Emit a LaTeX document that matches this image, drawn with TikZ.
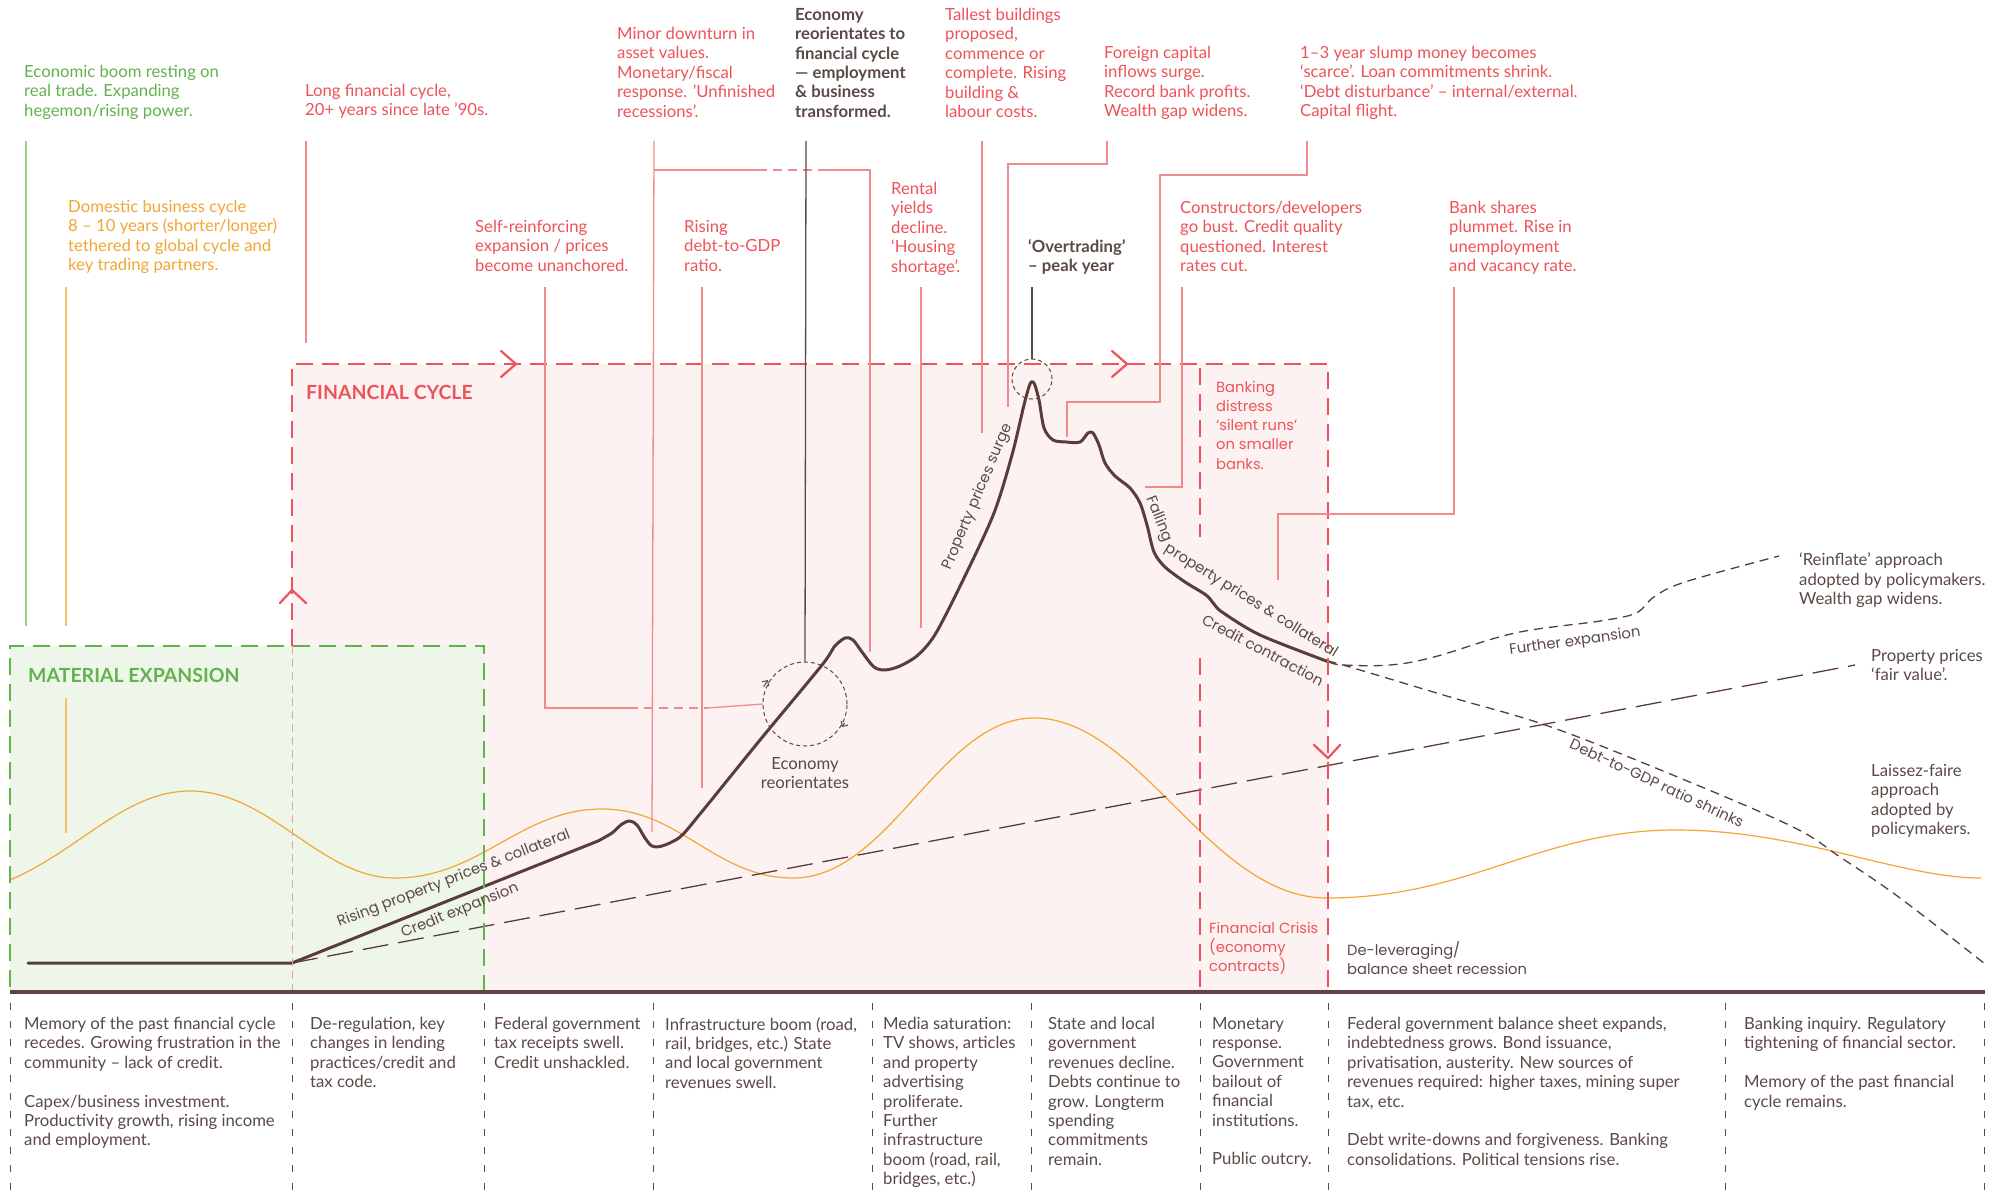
\documentclass[tikz,border=0pt]{standalone}
\usepackage{fontspec}
\setmainfont{Lato}
\newfontfamily\geofont{Poppins}
\usetikzlibrary{arrows.meta,calc}
\definecolor{fcred}{HTML}{EE5359}
\definecolor{leadred}{HTML}{F28A8D}
\definecolor{fcfill}{HTML}{FCF2F1}
\definecolor{megreen}{HTML}{62B24E}
\definecolor{mefill}{HTML}{EEF6EA}
\definecolor{leadgreen}{HTML}{95CF86}
\definecolor{cycorange}{HTML}{F2A633}
\definecolor{leadorange}{HTML}{F5C067}
\definecolor{ink}{HTML}{5B4945}
\definecolor{curvebrown}{HTML}{5A3D39}
\definecolor{axisbrown}{HTML}{5E4540}
\definecolor{pinkdash}{HTML}{E9A39D}
\tikzset{
  txt/.style={anchor=north west, inner sep=0pt, align=left, font=\fontsize{16.7}{19.4}\selectfont},
  rtxt/.style={txt, text=fcred},
  gtxt/.style={txt, text=megreen},
  otxt/.style={txt, text=cycorange},
  dtxt/.style={txt, text=ink},
  btxt/.style={txt, text=ink, font=\fontsize{16.7}{19.4}\selectfont\bfseries},
  geotxt/.style={txt, font=\geofont\fontsize{14.7}{19.2}\selectfont},
  curvelbl/.style={inner sep=0pt, text=ink, font=\geofont\fontsize{14.8}{16}\selectfont},
  boxtitle/.style={anchor=west, inner sep=0pt, font=\fontsize{19.5}{21}\selectfont\bfseries},
  leadline/.style={draw=leadred, line width=1.3pt},
  leadhop/.style={leadline, dash pattern=on 9pt off 6pt},
  darklead/.style={draw=ink, line width=1.3pt},
  gedge/.style={draw=megreen, line width=2.2pt, dash pattern=on 17pt off 9pt},
  redge/.style={draw=fcred, line width=2.2pt, dash pattern=on 17pt off 9pt},
  chev/.style={draw=fcred, line width=2.2pt, line cap=round},
  pcurve/.style={draw=curvebrown, line width=3pt, line join=round, line cap=round},
  proj/.style={draw=curvebrown, line width=1.3pt, dash pattern=on 9pt off 6pt},
  fair/.style={draw=curvebrown, line width=1.3pt, dash pattern=on 26pt off 10pt},
  biz/.style={draw=cycorange, line width=1.2pt},
  colsep/.style={draw=ink, line width=1pt, dash pattern=on 7pt off 11pt},
  axisline/.style={draw=axisbrown, line width=4.5pt},
  ring/.style={circle, draw=ink, line width=1pt, dash pattern=on 4pt off 3pt, inner sep=0pt},
  spin/.style={draw=ink, line width=1pt, -{Straight Barb[length=4pt,width=8pt]}}
}
\begin{document}
\begin{tikzpicture}[x=1pt, y=-1pt]
\useasboundingbox (0,0) rectangle (2002,1190);
\fill[white] (0,0) rectangle (2002,1190);

% regions
\fill[fcfill] (292,364) rectangle (1328,992);
\fill[mefill] (10,646) rectangle (484,992);

% curve anchors
\coordinate (start) at (28,963);
\coordinate (kink) at (292,963);
\coordinate (dip1) at (652,832);
\coordinate (dip2) at (870,652);
\coordinate (fork) at (1329,662);
\coordinate (fairend) at (1855,665);

% business cycle
\draw[biz] (10,880) .. controls (80,850) and (125,791) .. (190,791)
  .. controls (270,791) and (320,878) .. (395,878)
  .. controls (480,878) and (520,809) .. (602,809)
  .. controls (680,809) and (715,878) .. (793,878)
  .. controls (890,878) and (940,718) .. (1034,718)
  .. controls (1140,718) and (1210,898) .. (1327,898)
  .. controls (1470,898) and (1540,830) .. (1676,830)
  .. controls (1800,830) and (1900,878) .. (1981,878);

% fair value and projections
\draw[fair] (kink) -- (fairend);
\draw[proj] plot[smooth, tension=0.6] coordinates {(1329,662) (1343,665) (1390,665) (1434,657) (1515,633) (1600,621) (1636,613) (1654,597) (1685,582) (1779,556)};
\draw[proj] plot[smooth, tension=0.6] coordinates {(1329,662) (1343,665) (1450,697) (1551,727) (1680,778) (1793,827) (1840,857) (1900,898) (1985,964)};

% property prices
\draw[pcurve] (start) -- (kink) -- (598,841) -- plot[smooth, tension=0.5] coordinates {(598,841) (612,833) (622,824) (630,821) (637,825) (645,838) (652,846) (662,846) (680,837) (700,814) (760,740) (822,665) (834,647) (845,638) (853,640) (862,652) (874,667) (885,670) (900,666) (918,655) (936,633) (965,576) (994,513) (1012,455) (1024,405) (1030,384) (1034,383) (1039,400) (1044,428) (1053,440) (1066,442) (1080,442) (1088,433) (1093,433) (1099,445) (1105,463) (1115,476) (1130,488) (1140,503) (1147,525) (1154,552) (1165,567) (1185,582) (1206,595) (1214,604) (1222,612) (1260,635) (fork)};

% box edges
\draw[gedge] (484,992) -- (484,646) -- (10,646) -- (10,992);
\draw[redge] (292,646) -- (292,364) -- (1328,364) -- (1328,992);
\draw[pinkdash, line width=0.8pt, dash pattern=on 8pt off 5pt] (292,646) -- (292,992);
\draw[redge] (1200,368) -- (1200,537);
\draw[redge] (1200,658) -- (1200,992);
\draw[chev] (501,351) -- (516,364) -- (501,377);
\draw[chev] (1112,351) -- (1127,364) -- (1112,377);
\draw[chev] (280,603) -- (292,590) -- (306,603);
\draw[chev] (1314,745) -- (1328,758) -- (1340,745);

\node[boxtitle, text=megreen] (melabel) at (28,675) {MATERIAL EXPANSION};
\node[boxtitle, text=fcred] (fclabel) at (306,392) {FINANCIAL CYCLE};

% rings
\node[ring, minimum size=84pt] (econring) at (805,704) {};
\node[ring, minimum size=40pt] (peakring) at (1032,379) {};
\draw[spin] (763.6,686.7) -- (768,680);
\draw[spin] (844.6,722.8) -- (842,727);
\node[dtxt, anchor=north, align=center] (econlbl) at (805,757) {Economy\\reorientates};

% top notes
\node[gtxt] (boom) at (24,65) {Economic boom resting on\\real trade. Expanding\\hegemon/rising power.};
\node[otxt] (domestic) at (68,200) {Domestic business cycle\\8 – 10 years (shorter/longer)\\tethered to global cycle and\\key trading partners.};
\node[rtxt] (longfc) at (305,84) {Long financial cycle,\\20+ years since late '90s.};
\node[rtxt] (minor) at (617,27) {Minor downturn in\\asset values.\\Monetary/fiscal\\response. 'Unfinished\\recessions'.};
\node[btxt] (reorient) at (795,8) {Economy\\reorientates to\\financial cycle\\— employment\\\& business\\transformed.};
\node[rtxt] (tallest) at (945,8) {Tallest buildings\\proposed,\\commence or\\complete. Rising\\building \&\\labour costs.};
\node[rtxt] (foreign) at (1104,46) {Foreign capital\\inflows surge.\\Record bank profits.\\Wealth gap widens.};
\node[rtxt] (slump) at (1300,46) {1–3 year slump money becomes\\‘scarce’. Loan commitments shrink.\\‘Debt disturbance’ – internal/external.\\Capital flight.};
\node[rtxt] (selfreinf) at (475,220) {Self-reinforcing\\expansion / prices\\become unanchored.};
\node[rtxt] (risingdebt) at (684,220) {Rising\\debt-to-GDP\\ratio.};
\node[rtxt] (rental) at (891,182) {Rental\\yields\\decline.\\‘Housing\\shortage’.};
\node[btxt] (overtrade) at (1028,239) {‘Overtrading’\\– peak year};
\node[rtxt] (constructors) at (1180,201) {Constructors/developers\\go bust. Credit quality\\questioned. Interest\\rates cut.};
\node[rtxt] (bankshares) at (1449,201) {Bank shares\\plummet. Rise in\\unemployment\\and vacancy rate.};
\node[geotxt, text=fcred] (banking) at (1216,381) {Banking\\distress\\‘silent runs’\\on smaller\\banks.};

% leaders
\draw[leadgreen, line width=1.3pt] (26,141) -- (26,626);
\draw[leadorange, line width=1.3pt] (66,287) -- (66,626);
\draw[leadorange, line width=1.3pt] (66,698) -- (66,833);
\draw[leadline] (306,141) -- (306,343);
\draw[leadline] (654,141) -- (dip1);
\draw[leadline] (654,170) -- (758,170);
\draw[leadhop] (758,170) -- (820,170);
\draw[leadline] (820,170) -| (dip2);
\draw[darklead] (806,141) -- (econring.north);
\draw[leadline] (982,141) -- (982,433);
\draw[leadline] (1107,141) |- (1008,164) -- (1008,407);
\draw[leadline] (1307,141) |- (1160,175) |- (1067,402) -- (1067,437);
\draw[leadline] (545,287) |- (629,708);
\draw[leadhop] (629,708) -- (708,708);
\draw[leadline] (708,708) -- (econring.west);
\draw[leadline] (702,287) -- (702,788);
\draw[leadline] (921,287) -- (921,628);
\draw[darklead] (1032,287) -- (peakring.north);
\draw[leadline] (1182,287) |- (1145,487);
\draw[leadline] (1454,287) |- (1278,514) -- (1278,580);

% curve labels
\node[curvelbl, rotate=21] (risinglbl) at (454,879) {Rising property prices \& collateral};
\node[curvelbl, rotate=22] (creditexp) at (460,911) {Credit expansion};
\node[curvelbl, rotate=67] (surge) at (978,497) {Property prices surge};
\node[curvelbl, rotate=-68] (falling) at (1159,519) {Falling};
\node[curvelbl, rotate=-32] (fallrest) at (1251,601) {property prices \& collateral};
\node[curvelbl, rotate=-28] (creditcon) at (1263,650) {Credit contraction};
\node[curvelbl, rotate=8] (further) at (1575,642) {Further expansion};
\node[curvelbl, rotate=-25] (debtshrink) at (1657,783) {Debt-to-GDP ratio shrinks};

% right notes
\node[dtxt] (reinflate) at (1799,553) {‘Reinflate’ approach\\adopted by policymakers.\\Wealth gap widens.};
\node[dtxt] (fairvalue) at (1871,649) {Property prices\\‘fair value’.};
\node[dtxt] (laissez) at (1871,764) {Laissez-faire\\approach\\adopted by\\policymakers.};
\node[geotxt, text=fcred] (crisis) at (1209,922) {Financial Crisis\\(economy\\contracts)};
\node[geotxt, text=ink] (delever) at (1347,941) {De-leveraging/\\balance sheet recession};

% timeline
\draw[axisline] (10,992) -- (1985,992);
\foreach \x in {10,292,484,653,872,1031,1200,1328,1725,1984}
  \draw[colsep] (\x,1003) -- (\x,1190);
\node[dtxt] (col1) at (24,1017) {Memory of the past financial cycle\\recedes. Growing frustration in the\\community – lack of credit.\\[19.4pt]Capex/business investment.\\Productivity growth, rising income\\and employment.};
\node[dtxt] (col2) at (310,1017) {De-regulation, key\\changes in lending\\practices/credit and\\tax code.};
\node[dtxt] (col3) at (494,1017) {Federal government\\tax receipts swell.\\Credit unshackled.};
\node[dtxt] (col4) at (665,1017) {Infrastructure boom (road,\\rail, bridges, etc.) State\\and local government\\revenues swell.};
\node[dtxt] (col5) at (883,1017) {Media saturation:\\TV shows, articles\\and property\\advertising\\proliferate.\\Further\\infrastructure\\boom (road, rail,\\bridges, etc.)};
\node[dtxt] (col6) at (1048,1017) {State and local\\government\\revenues decline.\\Debts continue to\\grow. Longterm\\spending\\commitments\\remain.};
\node[dtxt] (col7) at (1212,1017) {Monetary\\response.\\Government\\bailout of\\financial\\institutions.\\[19.4pt]Public outcry.};
\node[dtxt] (col8) at (1347,1017) {Federal government balance sheet expands,\\indebtedness grows. Bond issuance,\\privatisation, austerity. New sources of\\revenues required: higher taxes, mining super\\tax, etc.\\[19.4pt]Debt write-downs and forgiveness. Banking\\consolidations. Political tensions rise.};
\node[dtxt] (col9) at (1744,1017) {Banking inquiry. Regulatory\\tightening of financial sector.\\[19.4pt]Memory of the past financial\\cycle remains.};
\end{tikzpicture}
\end{document}
